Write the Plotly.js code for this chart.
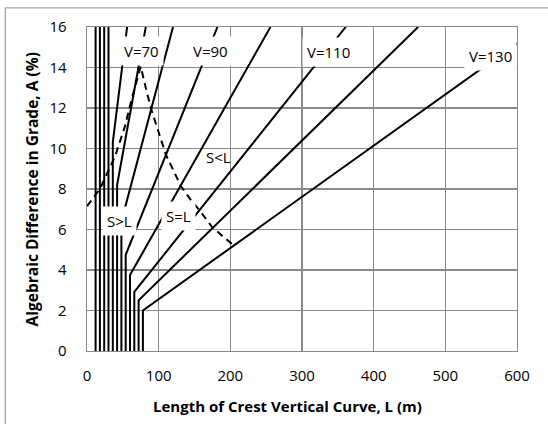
<!DOCTYPE html>
<html>
<head>
<meta charset="utf-8">
<script src="https://cdn.plot.ly/plotly-3.0.1.min.js"></script>
<style>
  html, body { margin: 0; padding: 0; background: #fff; }
  #chart { width: 548px; height: 424px; }
</style>
</head>
<body>
<div id="chart"></div>
<script>
// Design speeds (km/h) and the crest curve control for each speed.
const speeds = [20, 30, 40, 50, 60, 70, 80, 90, 100, 110, 120, 130];
// Minimum curve length (m): vertical part of each control line.
const minLength = [12, 18, 24, 30, 36, 42, 48, 54, 60, 66, 72, 78];
// Grade difference where the minimum length stops governing (%).
const bendGrade = [16, 16, 16, 16, 10.3, 8.2, 6.4, 4.75, 3.75, 2.92, 2.5, 2.0];
// End of each sloped control line (m, %).
const endLength = [12, 18, 24, 30, 56, 82, 120, 182, 256, 361, 462, 600];
const endGrade = [16, 16, 16, 16, 16, 16, 16, 16, 16, 16, 16, 15.2];

// Boundary where sight distance equals curve length.
const boundaryLength = [0, 18, 39, 53, 62, 75, 83, 90, 110, 131, 144, 158, 175, 204];
const boundaryGrade = [7.15, 8.0, 9.6, 11.1, 12.4, 14.05, 12.85, 11.9, 9.7, 8.15, 7.5, 6.9, 6.1, 5.23];

const xTicks = [0, 100, 200, 300, 400, 500, 600];
const yTicks = [0, 2, 4, 6, 8, 10, 12, 14, 16];

const FONT = '"Open Sans", "Liberation Sans", sans-serif';

const traces = speeds.map((v, i) => ({
  type: 'scatter',
  mode: 'lines',
  name: 'V=' + v,
  x: [minLength[i], minLength[i], endLength[i]],
  y: [0, bendGrade[i], endGrade[i]],
  line: { color: '#000', width: 2 },
  hoverinfo: 'skip'
}));

traces.push({
  type: 'scatter',
  mode: 'lines',
  name: 'S=L',
  x: boundaryLength,
  y: boundaryGrade,
  line: { color: '#000', width: 2, dash: '7px,5px' },
  hoverinfo: 'skip'
});

function label(text, x, y, boxed) {
  return {
    text: text, x: x, y: y, xref: 'x', yref: 'y',
    showarrow: false,
    font: { family: FONT, size: 15, color: '#000' },
    bgcolor: boxed ? '#fff' : 'rgba(0,0,0,0)',
    borderpad: 4,
    xanchor: 'center', yanchor: 'middle'
  };
}

const annotations = [
  label('V=70', 76, 14.8, true),
  label('V=90', 172, 14.8, true),
  label('V=110', 337, 14.75, true),
  label('V=130', 563, 14.55, true),
  label('S>L', 44.7, 6.43, true),
  label('S=L', 127, 6.68, true),
  label('S<L', 183, 9.6, false),
  {
    text: '<b>Length of Crest Vertical Curve, L (m)</b>',
    xref: 'paper', yref: 'paper', x: 0.4666, y: -0.17,
    xanchor: 'center', yanchor: 'middle', showarrow: false,
    font: { family: FONT, size: 15, color: '#000' }
  },
  {
    text: '<b>Algebraic Difference in Grade, A (%)</b>',
    xref: 'paper', yref: 'paper', x: -0.127, y: 0.5,
    xanchor: 'center', yanchor: 'middle', showarrow: false, textangle: -90,
    font: { family: FONT, size: 15.5, color: '#000' }
  }
];

const gridColor = '#8a8a8a';

const layout = {
  width: 548,
  height: 424,
  margin: { l: 87, r: 31, t: 27, b: 73 },
  paper_bgcolor: '#fff',
  plot_bgcolor: '#fff',
  showlegend: false,
  xaxis: {
    range: [0, 600],
    tickvals: xTicks,
    ticktext: xTicks.map(String),
    showgrid: true, gridcolor: gridColor, gridwidth: 1.3,
    showline: true, linecolor: gridColor, linewidth: 1.3, mirror: true,
    zeroline: false,
    ticks: '', ticklabelstandoff: 11,
    tickfont: { family: FONT, size: 15, color: '#000' },
    fixedrange: true
  },
  yaxis: {
    range: [0, 16],
    tickvals: yTicks,
    ticktext: yTicks.map(String),
    showgrid: true, gridcolor: gridColor, gridwidth: 1.3,
    showline: true, linecolor: gridColor, linewidth: 1.3, mirror: true,
    zeroline: false,
    ticks: '', ticklabelstandoff: 16,
    tickfont: { family: FONT, size: 15, color: '#000' },
    fixedrange: true
  },
  annotations: annotations,
  shapes: [
    {
      type: 'rect', xref: 'paper', yref: 'paper',
      x0: -0.19, x1: 1.2, y0: -0.3, y1: 1.059,
      line: { color: '#a6a6a6', width: 1.3 },
      fillcolor: 'rgba(0,0,0,0)', layer: 'below'
    }
  ]
};

Plotly.newPlot('chart', traces, layout, { staticPlot: true, displayModeBar: false });
</script>
</body>
</html>
